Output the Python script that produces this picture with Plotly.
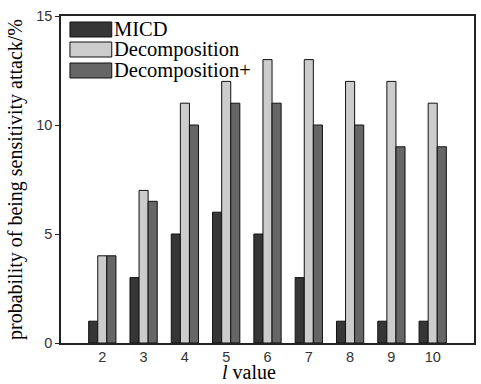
import plotly.graph_objects as go

l_values = [2, 3, 4, 5, 6, 7, 8, 9, 10]
micd = [1, 3, 5, 6, 5, 3, 1, 1, 1]
decomposition = [4, 7, 11, 12, 13, 13, 12, 12, 11]
decomposition_plus = [4, 6.5, 10, 11, 11, 10, 10, 9, 9]
series_names = ["MICD", "Decomposition", "Decomposition+"]
series_colors = ["#363636", "#cccccc", "#666666"]
y_ticks = [0, 5, 10, 15]

W, H = 481, 384
L, R, T, B = 61, 5, 16, 41
pw, ph = W - L - R, H - T - B

def px(x):
    return (x - L) / pw

def py(y):
    return (H - B - y) / ph

fig = go.Figure()
for name, vals, col in zip(series_names, [micd, decomposition, decomposition_plus], series_colors):
    fig.add_trace(go.Bar(x=l_values, y=vals, name=name, marker=dict(color=col, line=dict(color="#111111", width=1)),
                         showlegend=False))

shapes = []
annotations = []
row_y = [29.5, 49.5, 70.5]
for name, col, ry in zip(series_names, series_colors, row_y):
    shapes.append(dict(type="rect", xref="paper", yref="paper",
                       x0=px(70), x1=px(112), y0=py(ry + 7.5), y1=py(ry - 7.5),
                       fillcolor=col, line=dict(color="#111111", width=1)))
    annotations.append(dict(text=name, xref="paper", yref="paper", x=px(112), y=py(ry),
                            xanchor="left", yanchor="middle", showarrow=False,
                            font=dict(family="Liberation Serif", size=20.5, color="black")))

annotations.append(dict(text="<i>l</i> value", xref="paper", yref="paper", x=px(249.5), y=py(384),
                        xanchor="center", yanchor="bottom", showarrow=False, borderpad=0,
                        font=dict(family="Liberation Serif", size=20, color="black")))

fig.update_layout(
    width=W, height=H,
    margin=dict(l=L, r=R, t=T, b=B, pad=0),
    paper_bgcolor="white", plot_bgcolor="white",
    barmode="group", bargap=0.34, bargroupgap=0,
    shapes=shapes, annotations=annotations,
    xaxis=dict(range=[1, 11], tickvals=l_values, ticktext=[str(v) for v in l_values],
               showgrid=False, zeroline=False, showline=True, linecolor="#222222", linewidth=1.5,
               mirror=True, ticks="", tickfont=dict(family="Liberation Sans", size=14.5, color="#333333")),
    yaxis=dict(range=[0, 15], tickvals=y_ticks, showgrid=False, zeroline=False, showline=True,
               linecolor="#222222", linewidth=1.5, mirror=True, ticks="outside", ticklen=4,
               tickcolor="#222222",
               tickfont=dict(family="Liberation Sans", size=14.5, color="#333333"),
               title=dict(text="probability of being sensitivity attack/%", standoff=8,
                          font=dict(family="Liberation Serif", size=20, color="black"))),
)

fig.write_html("out.html")
